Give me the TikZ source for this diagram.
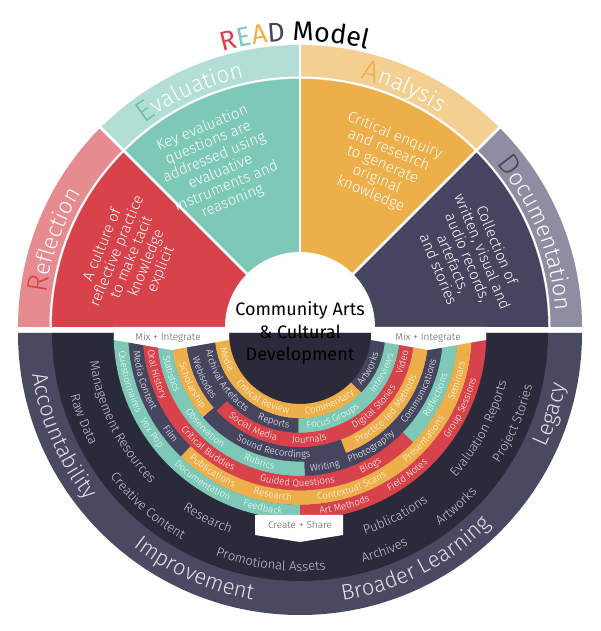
\documentclass[tikz,border=0pt]{standalone}
\usepackage{fontspec}
\setmainfont{Fira Sans Light}
\newfontfamily\regfont{Fira Sans}
\usepackage{tikz}
\usetikzlibrary{decorations.text}

\definecolor{rred}{HTML}{D8434B}
\definecolor{rredlt}{HTML}{E68B8F}
\definecolor{rteal}{HTML}{7EC8B8}
\definecolor{rtealdk}{HTML}{6CBDAC}
\definecolor{rteallt}{HTML}{B2DED5}
\definecolor{rorange}{HTML}{EDAF4A}
\definecolor{rorangelt}{HTML}{F4CF92}
\definecolor{rnavy}{HTML}{45455F}
\definecolor{rnavylt}{HTML}{8E8DA2}
\definecolor{lowdark}{HTML}{2A2A3B}
\definecolor{lowband}{HTML}{4A4962}
\definecolor{darkfont}{HTML}{C9C9D3}
\definecolor{bandfont}{HTML}{E4E4EA}
\definecolor{bannerfont}{HTML}{5A5A5A}

% annular sector: centre, r1, r2, a1, a2, colour
\newcommand{\annsec}[6]{%
  \fill[#6] ([shift={(#4:#2)}]#1) arc[start angle=#4,end angle=#5,radius=#2]
    -- ([shift={(#5:#3)}]#1) arc[start angle=#5,end angle=#4,radius=#3] -- cycle;}

% label on ring #1 (1 = innermost) at angle #2
\newcommand{\ringtext}[3]{%
  \pgfmathsetmacro{\rr}{71+14.4*(#1-0.5)+3}%
  \path[decorate,decoration={text along path,text align=center,text color=white,
      text={|\fontsize{9.6}{9.6}\selectfont|#3}}]
    ([shift={(#2-70:\rr)}]L) arc[start angle=#2-70,end angle=#2+70,radius=\rr];}

% label in the dark band, radius #1, angle #2
\newcommand{\darktext}[3]{%
  \path[decorate,decoration={text along path,text align=center,text color=darkfont,
      text={|\fontsize{13}{13}\selectfont|#3}}]
    ([shift={(#2-60:#1)}]L) arc[start angle=#2-60,end angle=#2+60,radius=#1];}

% label in the outer band of the lower half
\newcommand{\bandtext}[2]{%
  \path[decorate,decoration={text along path,text align=center,text color=bandfont,
      text={|\fontsize{22}{22}\selectfont|#2}}]
    ([shift={(#1-50:271)}]L) arc[start angle=#1-50,end angle=#1+50,radius=271];}

% READ title in the upper band: angle, colour, initial, rest
\newcommand{\bandtitle}[4]{%
  \path[decorate,decoration={text along path,text align=center,
      text={|\fontsize{29}{29}\selectfont\color{#2}|#3|\fontsize{23}{23}\selectfont\color{white}|#4}}]
    ([shift={(#1+60:256)}]U) arc[start angle=#1+60,end angle=#1-60,radius=256];}

\tikzset{
  bodytext/.style={text=white,align=center,font=\fontsize{15}{15.8}\selectfont},
  bannertext/.style={text=bannerfont,font=\fontsize{10}{12}\selectfont},
  centretext/.style={align=center,font=\regfont\fontsize{18}{22.5}\selectfont},
}

\begin{document}
\begin{tikzpicture}[x=1pt,y=1pt]
  \useasboundingbox (0,0) rectangle (600,631);
  \coordinate (U) at (300,304);  % centre of upper half
  \coordinate (L) at (300,298);  % centre of lower half
  \def\Ro{282}  % outer radius
  \def\Rb{248}  % inner edge of band
  \def\Rc{75}   % centre circle

  % upper half: the four READ quadrants
  \foreach \a/\lt/\dk in {0/rnavylt/rnavy,45/rorangelt/rorange,90/rteallt/rteal,135/rredlt/rred}{
    \fill[\lt] (U) -- ([shift={(\a:\Ro)}]U) arc[start angle=\a,end angle=\a+45,radius=\Ro] -- cycle;
    \fill[\dk] (U) -- ([shift={(\a:\Rb)}]U) arc[start angle=\a,end angle=\a+45,radius=\Rb] -- cycle;
  }
  \foreach \a in {45,90,135}
    \draw[white,line width=2.5pt] (U) -- ([shift={(\a:285)}]U);
  \draw[white,line width=2pt] ([shift={(0:249.5)}]U) arc[start angle=0,end angle=180,radius=249.5];
  \fill[white] ([shift={(0:\Rc)}]U) arc[start angle=0,end angle=180,radius=\Rc] -- cycle;

  % lower half
  \fill[lowband] ([shift={(180:\Ro)}]L) arc[start angle=180,end angle=360,radius=\Ro] -- cycle;
  \fill[lowdark] ([shift={(180:\Rb)}]L) arc[start angle=180,end angle=360,radius=\Rb] -- cycle;
  \foreach \k/\a/\b/\c in {
      1/180/316/rorange, 1/316/360/rnavy,
      2/180/269/rnavy, 2/269/360/rteal,
      3/180/223/rnavy, 3/223/360/rred,
      4/180/221/rorange, 4/221/291/rnavy, 4/291/360/rorange,
      5/180/272/rteal, 5/272/360/rnavy,
      6/180/316/rred, 6/316/360/rteal,
      7/180/226/rnavy, 7/226/360/rorange,
      8/180/270/rteal, 8/270/360/rred}{
    \pgfmathsetmacro{\ri}{71+14.4*(\k-1)}
    \pgfmathsetmacro{\ro}{\ri+14.6}
    \annsec{L}{\ri}{\ro}{\a}{\b}{\c}
  }

  % banners
  \fill[white] (114,304) -- (229,304) -- (229,291) -- (171.5,281) -- (114,291) -- cycle;
  \fill[white] (371,304) -- (486,304) -- (486,291) -- (428.5,281) -- (371,291) -- cycle;
  \fill[white] (255,116) -- (343,116) -- (343,96) -- (300,89) -- (255,96) -- cycle;
  \node[bannertext] (mixleft) at (168,293) {Mix + Integrate};
  \node[bannertext] (mixright) at (428,293) {Mix + Integrate};
  \node[bannertext] (share) at (300,106) {Create + Share};

  % ring labels
  \ringtext{1}{200}{Media}
  \ringtext{1}{240}{Critical Review}
  \ringtext{1}{293}{Commentary}
  \ringtext{1}{332.5}{Artworks}
  \ringtext{2}{213}{Archival Artefacts}
  \ringtext{2}{253.5}{Reports}
  \ringtext{2}{291.5}{Focus Groups}
  \ringtext{2}{334}{Interviews}
  \ringtext{3}{205}{Webisodes}
  \ringtext{3}{243.5}{Social Media}
  \ringtext{3}{275}{Journals}
  \ringtext{3}{315}{Digital Stories}
  \ringtext{3}{344}{Video}
  \ringtext{4}{206}{Scholarship}
  \ringtext{4}{257}{Sound Recordings}
  \ringtext{4}{318.4}{Practice-led Methods}
  \ringtext{5}{197.6}{Statistics}
  \ringtext{5}{225}{Observation}
  \ringtext{5}{252.5}{Rubrics}
  \ringtext{5}{280.5}{Writing}
  \ringtext{5}{302}{Photography}
  \ringtext{5}{334}{Communications}
  \ringtext{6}{196}{Oral History}
  \ringtext{6}{231.5}{Critical Buddies}
  \ringtext{6}{269}{Guided Questions}
  \ringtext{6}{298}{Blogs}
  \ringtext{6}{335.4}{Reflections}
  \ringtext{7}{197}{Media Content}
  \ringtext{7}{218}{Film}
  \ringtext{7}{237.6}{Publications}
  \ringtext{7}{260.5}{Research}
  \ringtext{7}{288.6}{Contextual Scans}
  \ringtext{7}{319.4}{Presentations}
  \ringtext{7}{343}{Seminars}
  \ringtext{8}{196}{Questionnaires}
  \ringtext{8}{214}{Vox Pop}
  \ringtext{8}{236.6}{Documentation}
  \ringtext{8}{258}{Feedback}
  \ringtext{8}{284.4}{Art Methods}
  \ringtext{8}{307}{Field Notes}
  \ringtext{8}{335}{Group Sessions}

  % dark band
  \darktext{238}{201.8}{Raw Data}
  \darktext{238}{228.7}{Creative Content}
  \darktext{238}{262.7}{Promotional Assets}
  \darktext{238}{291.2}{Archives}
  \darktext{238}{312}{Artworks}
  \darktext{238}{337}{Project Stories}
  \darktext{212}{206.5}{Management Resources}
  \darktext{212}{243.6}{Research}
  \darktext{212}{297.5}{Publications}
  \darktext{212}{332}{Evaluation Reports}

  % outer band
  \bandtext{203.5}{Accountability}
  \bandtext{246}{Improvement}
  \bandtext{297}{Broader Learning}
  \bandtext{342}{Legacy}

  % quadrant texts
  \node[bodytext,rotate=67.5] (reflbody) at ([shift={(157.5:182)}]U)
    {A culture of\\reflective practice\\to make tacit\\knowledge\\explicit};
  \node[bodytext,rotate=22.5] (evalbody) at ([shift={(117:182)}]U)
    {Key evaluation\\questions are\\addressed using\\evaluative\\instruments and\\reasoning};
  \node[bodytext,rotate=-22.5] (analbody) at ([shift={(63:182)}]U)
    {Critical enquiry\\and research\\to generate\\original\\knowledge};
  \node[bodytext,rotate=-67.5] (docbody) at ([shift={(22.5:182)}]U)
    {Collection of\\written, visual and\\audio records,\\artefacts,\\and stories};

  \bandtitle{160.5}{rred}{R}{eflection}
  \bandtitle{115}{rtealdk}{E}{valuation}
  \bandtitle{66.5}{rorange}{A}{nalysis}
  \bandtitle{21.7}{rnavy}{D}{ocumentation}

  % title
  \path[decorate,decoration={text along path,text align=center,
      text={|\regfont\fontsize{27}{27}\selectfont\color{rred}|R|\regfont\fontsize{27}{27}\selectfont\color{rteal}|E|\regfont\fontsize{27}{27}\selectfont\color{rorange}|A|\regfont\fontsize{27}{27}\selectfont\color{rnavy}|D |\regfont\fontsize{27}{27}\selectfont\color{black}|Model}}]
    ([shift={(151:286)}]U) arc[start angle=151,end angle=31,radius=286];

  \node[centretext] (centre) at (300,298) {Community Arts\\\& Cultural\\Development};
\end{tikzpicture}
\end{document}
